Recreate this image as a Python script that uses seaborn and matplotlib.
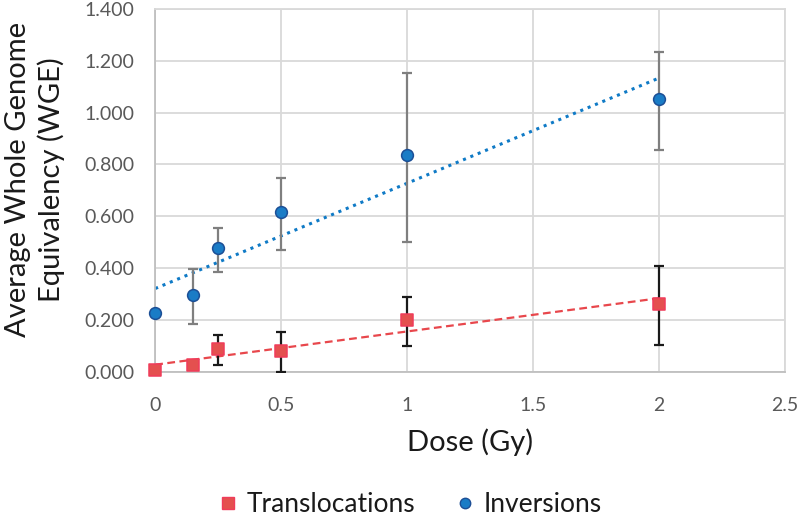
import numpy as np
import pandas as pd
import matplotlib
matplotlib.use("Agg")
import matplotlib.pyplot as plt
import seaborn as sns
from matplotlib.lines import Line2D

# Giá trị
dose = [0, 0.15, 0.25, 0.5, 1, 2]
translocations = [0.008, 0.027, 0.089, 0.081, 0.200, 0.263]
trans_err_low = [0, 0, 0.062, 0.081, 0.100, 0.159]
trans_err_high = [0, 0, 0.054, 0.074, 0.090, 0.147]
inversions = [0.228, 0.297, 0.478, 0.617, 0.838, 1.054]
inv_err_low = [0, 0.112, 0.092, 0.146, 0.336, 0.197]
inv_err_high = [0, 0.101, 0.078, 0.132, 0.316, 0.181]

x_ticks = [0, 0.5, 1, 1.5, 2, 2.5]
x_tick_labels = ["0", "0.5", "1", "1.5", "2", "2.5"]
y_ticks = [0, 0.2, 0.4, 0.6, 0.8, 1.0, 1.2, 1.4]

sns.set_theme(style="whitegrid")
plt.rcParams['font.family'] = ['Lato', 'DejaVu Sans']

red = "#e4504f"
red_edge = "#f03c5a"
blue = "#1a7cc6"
blue_edge = "#1c4f96"

df = pd.DataFrame({
    "Dose": dose * 2,
    "WGE": translocations + inversions,
    "Type": ["Translocations"] * len(dose) + ["Inversions"] * len(dose),
})

fig = plt.figure(figsize=(8, 5.17), dpi=100)
ax = fig.add_axes([0.194, 0.2805, 0.787, 0.7025])

# đường xu hướng tuyến tính
sns.regplot(x=dose, y=inversions, ax=ax, ci=None, scatter=False, truncate=True,
            line_kws=dict(color="#0f7ac6", linestyle=(0, (1, 1.6)), linewidth=2.2, zorder=2))
sns.regplot(x=dose, y=translocations, ax=ax, ci=None, scatter=False, truncate=True,
            line_kws=dict(color="#e8474c", linestyle=(0, (3.5, 2)), linewidth=1.6, zorder=2))

# thanh sai số
ax.errorbar(dose, inversions, yerr=[inv_err_low, inv_err_high], fmt="none",
            ecolor="#7f7f7f", elinewidth=1.6, capsize=3.5, capthick=1.6, zorder=3)
ax.errorbar(dose, translocations, yerr=[trans_err_low, trans_err_high], fmt="none",
            ecolor="#1a1a1a", elinewidth=1.6, capsize=3.5, capthick=1.6, zorder=3)

sub_t = df[df["Type"] == "Translocations"]
sub_i = df[df["Type"] == "Inversions"]
sns.scatterplot(data=sub_t, x="Dose", y="WGE", marker="s", s=72, color=red,
                edgecolor=red_edge, linewidth=1.1, ax=ax, zorder=4, legend=False)
sns.scatterplot(data=sub_i, x="Dose", y="WGE", marker="o", s=72, color=blue,
                edgecolor=blue_edge, linewidth=1.1, ax=ax, zorder=4, legend=False)

ax.set_xlim(0, 2.5)
ax.set_ylim(0, 1.4)
ax.set_xticks(x_ticks)
ax.set_xticklabels(x_tick_labels)
ax.set_yticks(y_ticks)
ax.set_yticklabels([f"{v:.3f}" for v in y_ticks])
ax.tick_params(axis="both", labelsize=14, colors="#595959", length=0)
ax.tick_params(axis="x", pad=18)
ax.tick_params(axis="y", pad=15)
ax.grid(True, color="#d9d9d9", linewidth=1.3)
for sp in ax.spines.values():
    sp.set_color("#d9d9d9")
    sp.set_linewidth(1.3)
ax.spines["bottom"].set_color("#bfbfbf")
ax.spines["left"].set_color("#bfbfbf")
for coll in ax.collections:
    coll.set_clip_on(False)

ax.set_xlabel("Dose (Gy)", fontsize=21, color="#1a1a1a")
ax.set_ylabel("Average Whole Genome\nEquivalency (WGE)", fontsize=21, color="#1a1a1a",
              linespacing=1.3)
ax.xaxis.set_label_coords(0.5, -0.155)
ax.yaxis.set_label_coords(-0.143, 0.53)

handles = [
    Line2D([], [], marker="s", linestyle="none", markersize=8.5, markerfacecolor=red,
           markeredgecolor=red_edge, label="Translocations"),
    Line2D([], [], marker="o", linestyle="none", markersize=7.5, markerfacecolor=blue,
           markeredgecolor=blue_edge, label="Inversions"),
]
fig.legend(handles=handles, loc="center", bbox_to_anchor=(0.51, 0.024), ncol=2,
           frameon=False, fontsize=19, handletextpad=0.2, columnspacing=1.4,
           handlelength=1.0, labelcolor="#1a1a1a", borderpad=0)

fig.savefig("out.png", dpi=100)
